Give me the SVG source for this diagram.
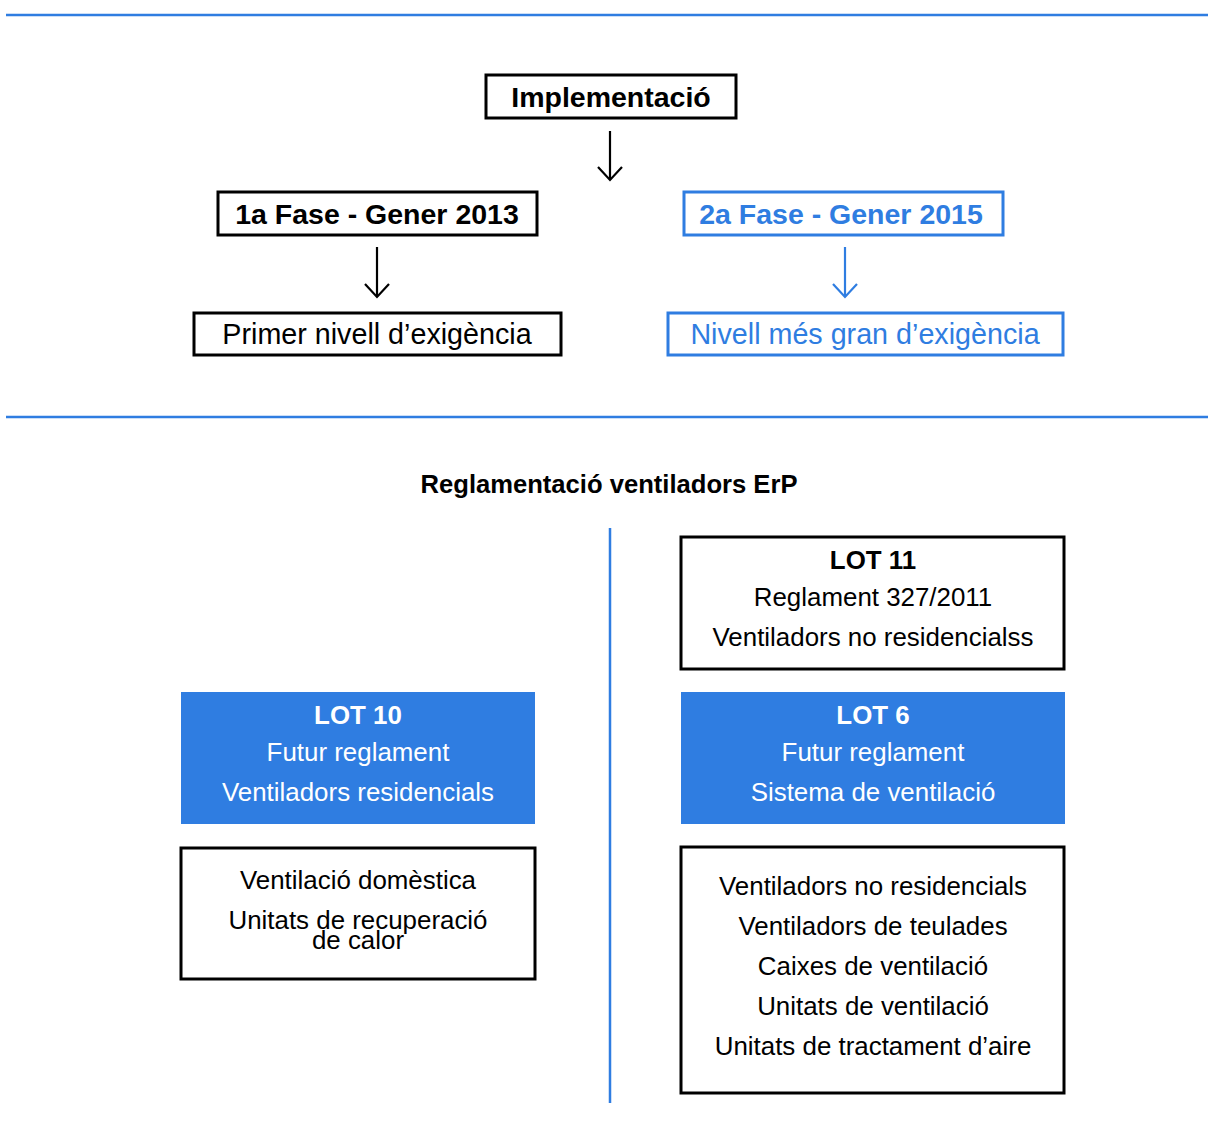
<svg xmlns="http://www.w3.org/2000/svg" width="1208" height="1148" viewBox="0 0 1208 1148">
<style>
.t{font-family:"Liberation Sans",Arial,Helvetica,sans-serif;text-anchor:middle}
.b{font-weight:bold}
.s{font-size:25.9px}
.bx{fill:#fff;stroke:#000;stroke-width:3}
.bb{fill:#fff;stroke:#2F7DE1;stroke-width:3}
.fb{fill:#2F7DE1;stroke:none}
.blue{fill:#2F7DE1}
.wh{fill:#fff}
.rule{stroke:#2F7DE1;stroke-width:2.5;fill:none}
.ar{fill:none;stroke-width:2.2}
</style>
<g id="rules">
<line class="rule" x1="6" y1="15" x2="1208" y2="15"/>
<line class="rule" x1="6" y1="417" x2="1208" y2="417"/>
<line class="rule" x1="610" y1="528" x2="610" y2="1103"/>
</g>
<g id="connectors">
<line x1="610" y1="131" x2="610" y2="180" stroke="#000" stroke-width="2.2"/>
<path class="ar" d="M598,167 L610,180 L622,167" stroke="#000"/>
<line x1="377" y1="247" x2="377" y2="297" stroke="#000" stroke-width="2.2"/>
<path class="ar" d="M365,284 L377,297 L389,284" stroke="#000"/>
<line x1="845" y1="247" x2="845" y2="297" stroke="#2F7DE1" stroke-width="2.2"/>
<path class="ar" d="M833,284 L845,297 L857,284" stroke="#2F7DE1"/>
</g>
<g id="implementacio">
<rect class="bx" x="486" y="75" width="250" height="43"/>
<text class="t b" x="611" y="107" font-size="28.5">Implementació</text>
</g>
<g id="fase1">
<rect class="bx" x="218" y="192" width="319" height="43"/>
<text class="t b" x="377" y="224" font-size="28.5">1a Fase - Gener 2013</text>
</g>
<g id="primer">
<rect class="bx" x="194" y="313" width="367" height="42"/>
<text class="t" x="377" y="344" font-size="28.7">Primer nivell d’exigència</text>
</g>
<g id="fase2">
<rect class="bb" x="684" y="192" width="319" height="43"/>
<text class="t b blue" x="841" y="224" font-size="28.5">2a Fase - Gener 2015</text>
</g>
<g id="nivell">
<rect class="bb" x="668" y="313" width="395" height="42"/>
<text class="t blue" x="865" y="344" font-size="28.7">Nivell més gran d’exigència</text>
</g>
<g id="title">
<text class="t b" x="609" y="493" font-size="25.6">Reglamentació ventiladors ErP</text>
</g>
<g id="lot11">
<rect class="bx" x="681" y="537" width="383" height="132"/>
<text class="t b s" x="873" y="569">LOT 11</text>
<text class="t s" x="873" y="606">Reglament 327/2011</text>
<text class="t s" x="873" y="646">Ventiladors no residencialss</text>
</g>
<g id="lot6">
<rect class="fb" x="681" y="692" width="384" height="132"/>
<text class="t b wh s" x="873" y="724">LOT 6</text>
<text class="t wh s" x="873" y="761">Futur reglament</text>
<text class="t wh s" x="873" y="801">Sistema de ventilació</text>
</g>
<g id="lot10">
<rect class="fb" x="181" y="692" width="354" height="132"/>
<text class="t b wh s" x="358" y="724">LOT 10</text>
<text class="t wh s" x="358" y="761">Futur reglament</text>
<text class="t wh s" x="358" y="801">Ventiladors residencials</text>
</g>
<g id="domestica">
<rect class="bx" x="181" y="848" width="354" height="131"/>
<text class="t s" x="358" y="889">Ventilació domèstica</text>
<text class="t s" x="358" y="929">Unitats de recuperació</text>
<text class="t s" x="358" y="949">de calor</text>
</g>
<g id="lot6list">
<rect class="bx" x="681" y="847" width="383" height="246"/>
<text class="t s" x="873" y="895">Ventiladors no residencials</text>
<text class="t s" x="873" y="935">Ventiladors de teulades</text>
<text class="t s" x="873" y="975">Caixes de ventilació</text>
<text class="t s" x="873" y="1015">Unitats de ventilació</text>
<text class="t s" x="873" y="1055">Unitats de tractament d’aire</text>
</g>
</svg>
